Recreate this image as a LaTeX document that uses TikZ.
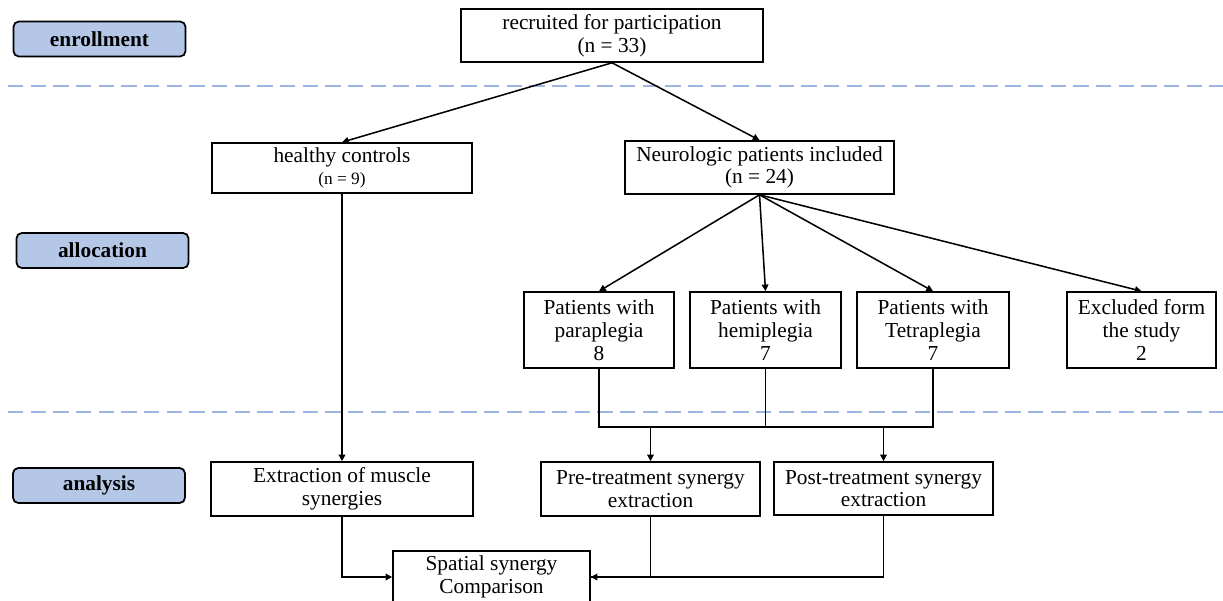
\documentclass[tikz,border=0pt]{standalone}
\usepackage{fontspec}
\setmainfont{Liberation Serif}
\usetikzlibrary{arrows.meta}
\definecolor{labfill}{HTML}{B4C7E7}
\definecolor{dashcol}{HTML}{9DB5E0}
\tikzset{
  box/.style={draw, line width=1.2pt, inner sep=0pt, align=center,
    font=\fontsize{16}{17}\selectfont},
  box3/.style={box, font=\fontsize{16}{17.25}\selectfont},
  lab/.style={draw, line width=1.3pt, rounded corners=4pt, fill=labfill,
    inner sep=0pt, minimum width=129pt, minimum height=26.25pt,
    font=\fontsize{16}{17}\selectfont\bfseries},
  conn/.style={line width=1.15pt},
  arr/.style={line width=1.15pt, -{Triangle[length=5pt,width=5pt]}},
  sep/.style={draw=dashcol, line width=1.3pt, dash pattern=on 11.5pt off 5.5pt}
}
\begin{document}
\begin{tikzpicture}[x=0.75pt,y=-0.75pt]
\useasboundingbox (0,0) rectangle (1223,600);
% separators
\coordinate (sepAL) at (8,85.7);
\coordinate (sepAR) at (1223,85.7);
\coordinate (sepBL) at (8,411.7);
\coordinate (sepBR) at (1223,411.7);
\draw[sep] (sepAL) -- (sepAR);
\draw[sep] (sepBL) -- (sepBR);
% phase labels
\node[lab] (enr) at (99.5,39) {enrollment};
\node[lab] (alloc) at (102.5,250.5) {allocation};
\node[lab] (anal) at (99,485.5) {analysis};
% boxes
\node[box, minimum width=226.5pt, minimum height=39.75pt] (top) at (612,35.5)
  {recruited for participation\\(n = 33)};
\node[box, minimum width=195pt, minimum height=37.5pt] (healthy) at (342,168)
  {healthy controls\\{\fontsize{13}{14}\selectfont (n = 9)}};
\node[box, minimum width=201.75pt, minimum height=39.75pt] (neuro) at (759.5,167.5)
  {Neurologic patients included\\(n = 24)};
\node[box3, minimum width=112.5pt, minimum height=57pt] (para) at (599,330)
  {Patients with\\paraplegia\\8};
\node[box3, minimum width=113.25pt, minimum height=57pt] (hemi) at (765.5,330)
  {Patients with\\hemiplegia\\7};
\node[box3, minimum width=114pt, minimum height=57pt] (tetra) at (933,330)
  {Patients with\\Tetraplegia\\7};
\node[box3, minimum width=111.75pt, minimum height=57pt] (excl) at (1141.5,330)
  {Excluded form\\the study\\2};
\node[box, minimum width=196.5pt, minimum height=40.5pt] (extr) at (342,489)
  {Extraction of muscle\\synergies};
\node[box, minimum width=164.25pt, minimum height=40.5pt] (pre) at (650.5,489)
  {Pre-treatment synergy\\extraction};
\node[box, minimum width=164.25pt, minimum height=39.75pt] (post) at (883.5,488.5)
  {Post-treatment synergy\\extraction};
\node[box, minimum width=147.75pt, minimum height=39pt] (spat) at (491.5,577)
  {Spatial synergy\\Comparison};
% connectors
\draw[arr] (top.south) -- (healthy.north);
\draw[arr] (top.south) -- (neuro.north);
\draw[arr] (neuro.south) -- (para.north);
\draw[arr] (neuro.south) -- (hemi.north);
\draw[arr] (neuro.south) -- (tetra.north);
\draw[arr] (neuro.south) -- (excl.north);
\draw[arr] (healthy.south) -- (extr.north);
\coordinate (bus) at (0,427);
\draw[conn] (para.south) -- (para.south |- bus) -- (tetra.south |- bus) -- (tetra.south);
\draw[conn] (hemi.south) -- (hemi.south |- bus);
\draw[arr] (pre.north |- bus) -- (pre.north);
\draw[arr] (post.north |- bus) -- (post.north);
\draw[arr] (extr.south) |- (spat.west);
\draw[arr] (pre.south) |- (spat.east);
\draw[conn] (post.south) |- (spat.east);
\end{tikzpicture}
\end{document}
